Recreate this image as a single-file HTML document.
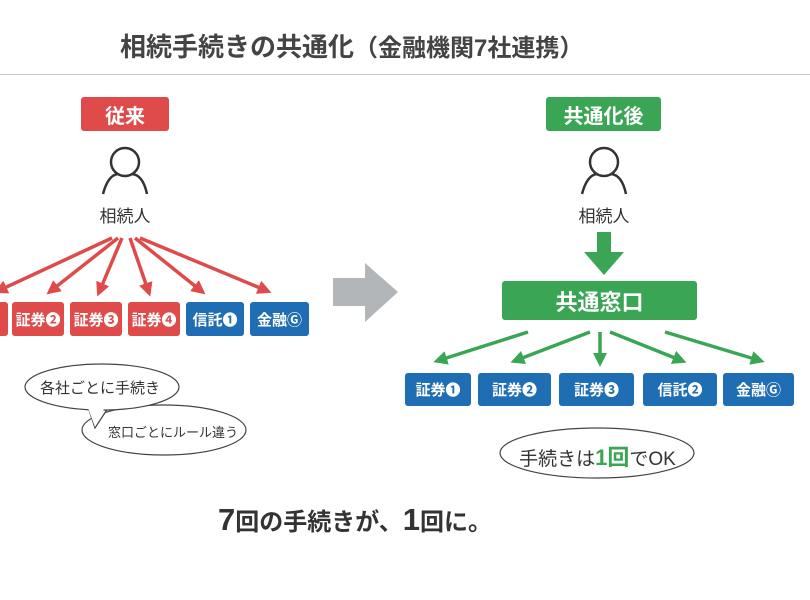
<!DOCTYPE html>
<html><head><meta charset="utf-8"><style>
body{margin:0;width:810px;height:600px;background:#fff;overflow:hidden;position:relative;font-family:"Liberation Sans","Noto Sans CJK JP",sans-serif;color:#333}
.a{position:absolute}
.t{display:flex;align-items:center;justify-content:center;color:#fff;font-weight:bold;border-radius:3px}
.r{background:#df4b4b}.b{background:#1f6db3}.g{background:#3aa655}
.bx{position:absolute;top:302px;height:34px;font-size:15px}
.gb{position:absolute;top:373px;height:33px;font-size:15px}
</style></head><body>
<div class="a" style="left:120px;top:27px;font-size:26px;font-weight:bold;color:#444;white-space:nowrap">相続手続きの共通化<span style="font-size:24px">（金融機関7社連携）</span></div>
<div class="a" style="left:0;top:74px;width:810px;height:1px;background:#ccc"></div>

<div class="a t r" style="left:81px;top:97px;width:88px;height:34px;font-size:20px">従来</div>
<div class="a t g" style="left:546px;top:97px;width:115px;height:34px;font-size:20px">共通化後</div>

<svg class="a" style="left:0;top:0" width="810" height="600">
<defs>
<marker id="mr" markerWidth="4" markerHeight="4" refX="2" refY="2" orient="auto"><path d="M0,0L4,2L0,4z" fill="#df4b4b"/></marker>
<marker id="mg" markerWidth="4" markerHeight="4" refX="2" refY="2" orient="auto"><path d="M0,0L4,2L0,4z" fill="#3aa655"/></marker>
</defs>
<g fill="none" stroke="#333" stroke-width="2.5">
<circle cx="125" cy="162" r="14"/><path d="M103,194 Q108,175 118,174 M132,174 Q143,175 147,194"/>
<circle cx="604" cy="162" r="14"/><path d="M582,194 Q587,175 597,174 M611,174 Q622,175 626,194"/>
</g>
<g stroke="#df4b4b" stroke-width="3.5" marker-end="url(#mr)">
<line x1="112" y1="238" x2="0" y2="290"/>
<line x1="118" y1="238" x2="52" y2="290"/>
<line x1="122" y1="238" x2="100" y2="290"/>
<line x1="130" y1="238" x2="148" y2="290"/>
<line x1="135" y1="238" x2="200" y2="290"/>
<line x1="140" y1="238" x2="265" y2="290"/>
</g>
<g stroke="#3aa655" stroke-width="3.5" marker-end="url(#mg)">
<line x1="528" y1="332" x2="440" y2="360"/>
<line x1="590" y1="332" x2="517" y2="360"/>
<line x1="600" y1="332" x2="600" y2="360"/>
<line x1="610" y1="332" x2="680" y2="360"/>
<line x1="665" y1="332" x2="758" y2="360"/>
</g>
<rect x="597" y="232" width="14" height="22" fill="#3aa655"/>
<path d="M584,252L624,252L604,275z" fill="#3aa655"/>
<path d="M333,278L365,278L365,263L398,292L365,322L365,306L333,306z" fill="#b3b6b9"/>
<ellipse cx="164" cy="430" rx="82" ry="25" fill="#fff" stroke="#444" stroke-width="1.2"/>
<path d="M85,398 L95,428 L110,405" fill="#fff" stroke="#444" stroke-width="1.2"/>
<ellipse cx="102" cy="387" rx="77" ry="23" fill="#fff" stroke="#444" stroke-width="1.2"/>
<path d="M88,408 L95,427 L104,409z" fill="#fff"/>
<ellipse cx="597" cy="453" rx="97" ry="25" fill="#fff" stroke="#444" stroke-width="1.2"/>
</svg>

<div class="a" style="left:75px;top:202px;width:100px;text-align:center;font-size:17px">相続人</div>
<div class="a" style="left:554px;top:202px;width:100px;text-align:center;font-size:17px">相続人</div>

<div class="bx t r" style="left:-40px;width:48px">❶</div>
<div class="bx t r" style="left:12px;width:52px">証券❷</div>
<div class="bx t r" style="left:70px;width:52px">証券❸</div>
<div class="bx t r" style="left:128px;width:52px">証券❹</div>
<div class="bx t b" style="left:186px;width:58px">信託❶</div>
<div class="bx t b" style="left:250px;width:59px">金融Ⓖ</div>

<div class="a t g" style="left:502px;top:281px;width:195px;height:39px;font-size:22px">共通窓口</div>
<div class="gb t b" style="left:405px;width:66px">証券❶</div>
<div class="gb t b" style="left:478px;width:73px">証券❷</div>
<div class="gb t b" style="left:559px;width:75px">証券❸</div>
<div class="gb t b" style="left:643px;width:74px">信託❷</div>
<div class="gb t b" style="left:723px;width:71px">金融Ⓖ</div>

<div class="a" style="left:40px;top:377px;font-size:15px">各社ごとに手続き</div>
<div class="a" style="left:108px;top:422px;font-size:13px">窓口ごとにルール違う</div>
<div class="a" style="left:500px;top:440px;width:195px;text-align:center;font-size:19px">手続きは<b style="color:#3aa655;font-size:22px">1回</b>でOK</div>

<div class="a" style="left:218px;top:502px;font-size:24px;font-weight:bold;color:#333;white-space:nowrap"><span style="font-size:31px">7</span>回の手続きが、<span style="font-size:31px">1</span>回に。</div>
</body></html>
